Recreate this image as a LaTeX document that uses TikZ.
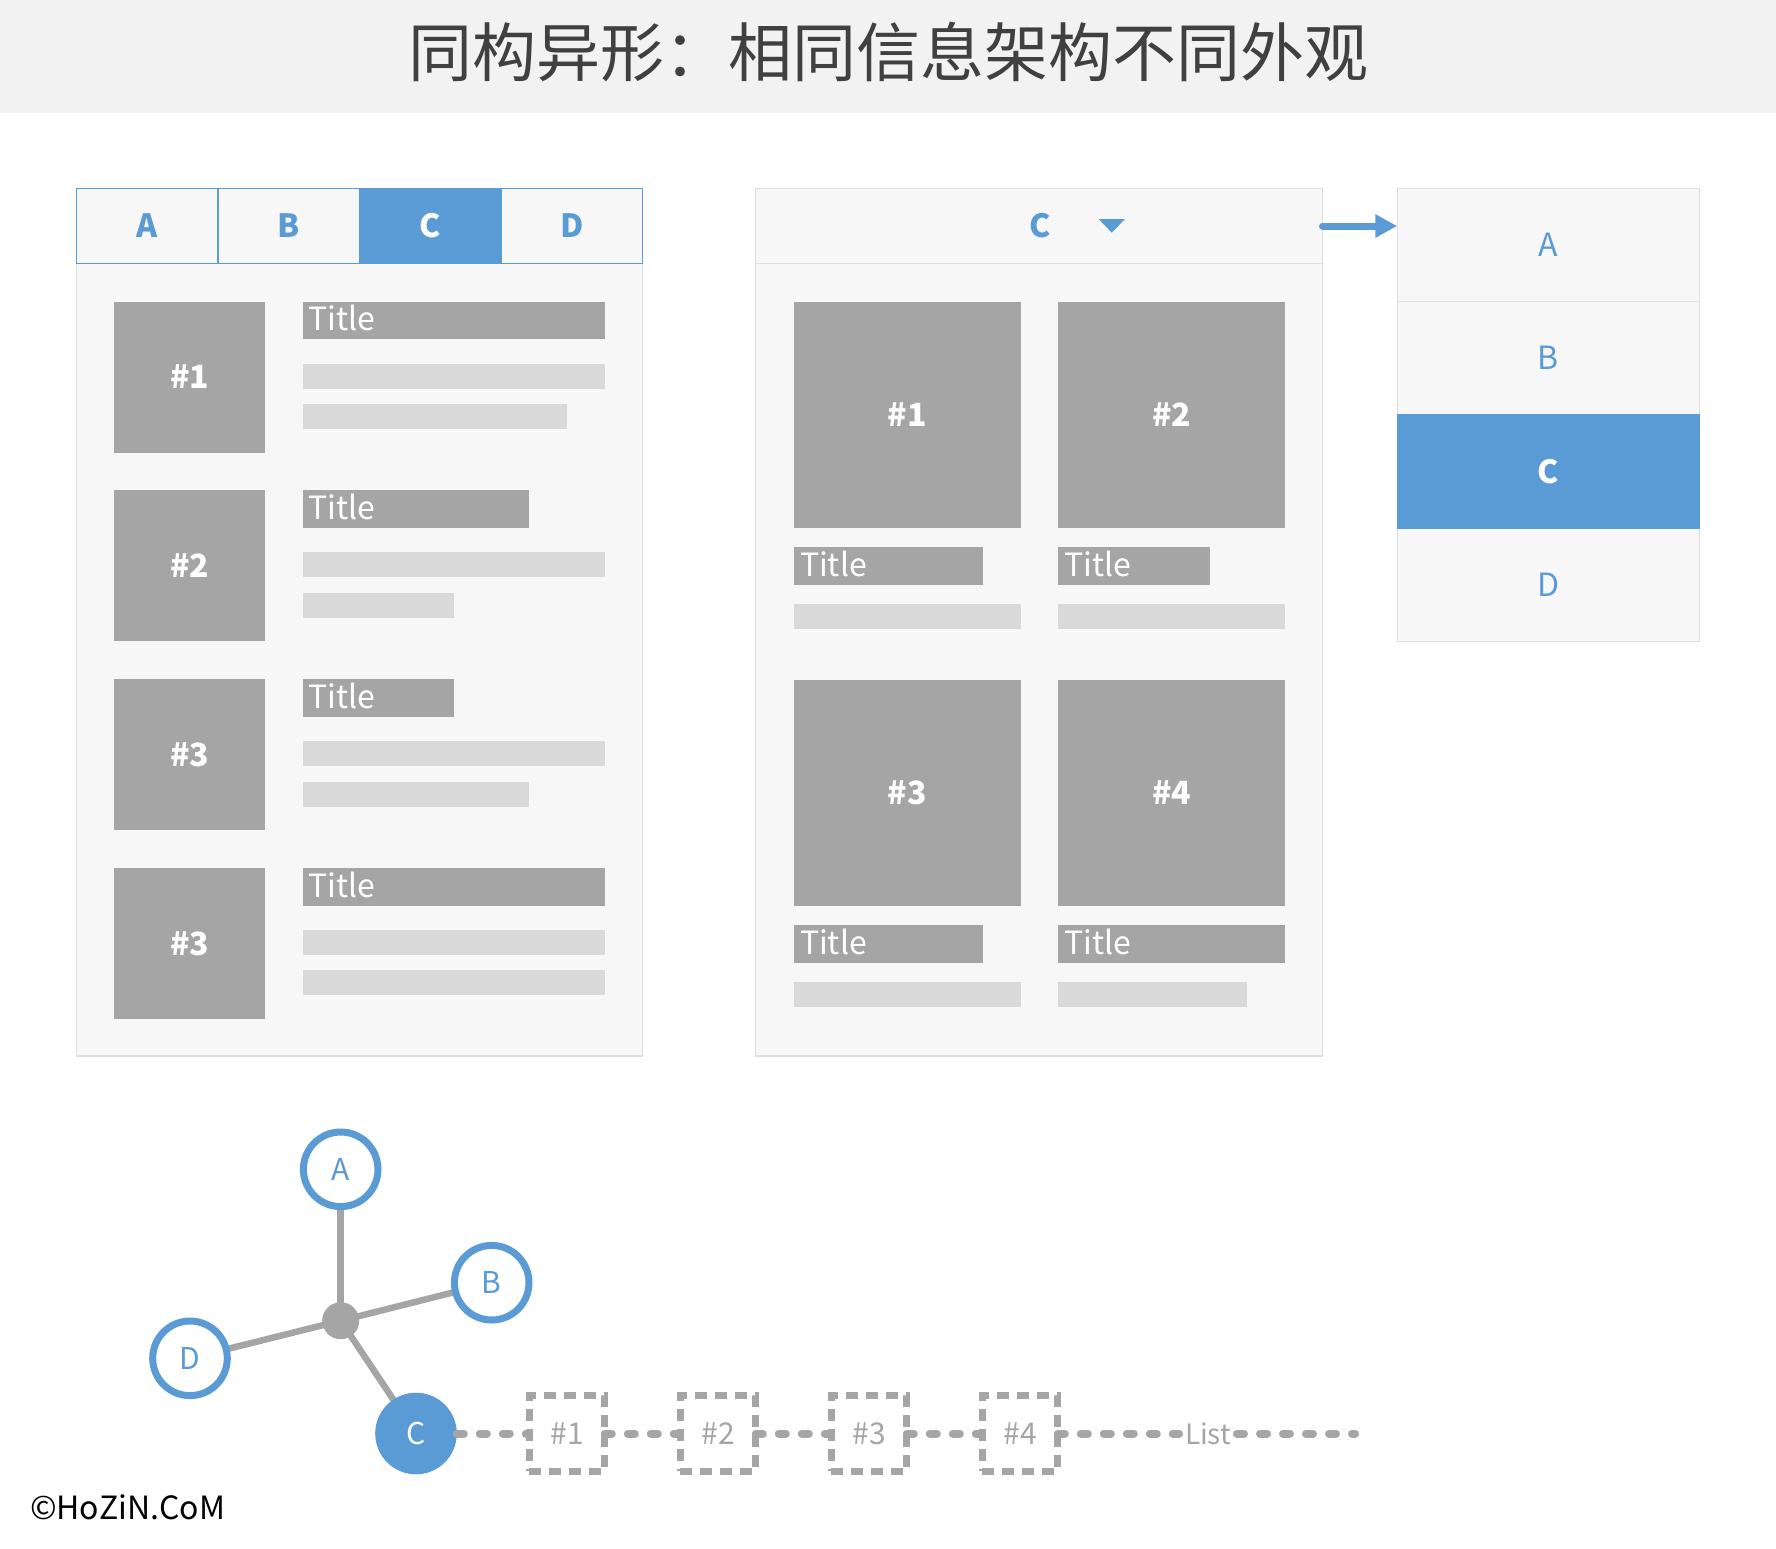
\documentclass[tikz,border=0pt]{standalone}
\usepackage{fontspec}
\setmainfont{Noto Sans CJK SC}
\usetikzlibrary{arrows.meta,backgrounds}
\definecolor{blu}{HTML}{5B9BD5}
\definecolor{imggray}{HTML}{A5A5A5}
\definecolor{lightline}{HTML}{D9D9D9}
\definecolor{panelbg}{HTML}{F7F7F7}
\definecolor{panelline}{HTML}{DEDEDE}
\definecolor{hdrbg}{HTML}{F2F2F2}
\definecolor{hdrtext}{HTML}{404040}
% box node from pixel corners: name, style, x1, y1, x2, y2, text
\newcommand\bx[7]{%
  \pgfmathsetmacro\bxw{((#5)-(#3))*0.5}%
  \pgfmathsetmacro\bxh{((#6)-(#4))*0.5}%
  \pgfmathsetmacro\bxcx{((#3)+(#5))/2}%
  \pgfmathsetmacro\bxcy{((#4)+(#6))/2}%
  \node[#2, minimum width=\bxw pt, minimum height=\bxh pt] (#1) at (\bxcx,\bxcy) {#7};}
\begin{document}
\begin{tikzpicture}[x=0.5pt,y=-0.5pt,
  every node/.style={inner sep=0pt, outer sep=0pt},
  fsz/.style={font=\fontsize{#1}{#1}\selectfont},
  bfsz/.style={font=\bfseries\fontsize{#1}{#1}\selectfont},
  panel/.style={fill=panelbg, draw=panelline, line width=0.75pt},
  tab/.style={fill=panelbg, draw=blu, line width=0.75pt, text=blu, bfsz=16pt},
  tabon/.style={fill=blu, draw=blu, line width=0.75pt, text=white, bfsz=16pt},
  img/.style={fill=imggray, text=white, bfsz=16pt},
  ttlbar/.style={fill=imggray},
  ttltxt/.style={text=white, fsz=16pt, anchor=west},
  txtline/.style={fill=lightline},
  item/.style={panel, text=blu, fsz=16pt},
  itemon/.style={fill=blu, draw=blu, line width=0.75pt, text=white, bfsz=16pt},
  ring/.style={circle, draw=blu, line width=3.5pt, fill=white, minimum size=37.3pt, text=blu, fsz=15pt},
  ringon/.style={circle, fill=blu, minimum size=40.8pt, text=white, fsz=15pt},
  hubdot/.style={circle, fill=imggray, minimum size=18.5pt},
  spoke/.style={draw=imggray, line width=3.25pt, line cap=round},
  dots/.style={draw=imggray, line width=4pt, line cap=round, dash pattern=on 3.5pt off 8pt},
  dbox/.style={draw=imggray, line width=3.5pt, dash pattern=on 6pt off 4pt, fill=white, minimum size=37.8pt, text=imggray, fsz=15pt},
  arr/.style={draw=blu, line width=3.5pt, line cap=round, -{Triangle[length=11pt,width=11pt]}}
]
\useasboundingbox (0,0) rectangle (1776,1548);
\begin{scope}[on background layer]
  \fill[white] (0,0) rectangle (1776,1548);
\end{scope}
% header
\fill[hdrbg] (0,0) rectangle (1776,112.7);
\node[text=hdrtext, fsz=32pt] (title) at (888,52) {同构异形：相同信息架构不同外观};

% ---------- left panel: tabs ----------
\bx{lbody}{panel}{76.5}{263.7}{642.5}{1056}{}
\bx{tA}{tab}{76.5}{188.3}{218}{263.7}{A}
\bx{tB}{tab}{218}{188.3}{359.5}{263.7}{B}
\bx{tD}{tab}{501}{188.3}{642.5}{263.7}{D}
\bx{tC}{tabon}{359.5}{188.3}{501}{263.7}{C}
\foreach \i/\n/\tw/\lw in {0/1/302.5/264.7,1/2/226.9/151.2,2/3/151.2/226.9,3/3/302.5/302.5}{
  \pgfmathsetmacro\T{301.5+188.8*\i}
  \bx{limg\i}{img}{114.3}{\T}{265.4}{\T+151}{\#\n}
  \bx{lttl\i}{ttlbar}{302.5}{\T}{302.5+\tw}{\T+37.8}{}
  \node[ttltxt] (lttltxt\i) at ([xshift=3pt,yshift=1pt]lttl\i.west) {Title};
  \bx{lla\i}{txtline}{302.5}{\T+62}{605}{\T+87}{}
  \bx{llb\i}{txtline}{302.5}{\T+102.5}{302.5+\lw}{\T+127.5}{}
}

% ---------- middle panel: dropdown + grid ----------
\bx{mbody}{panel}{755.3}{263.7}{1322.5}{1056}{}
\bx{mhead}{panel}{755.3}{188.3}{1322.5}{263.7}{}
\node[text=blu, bfsz=16pt] (mC) at (1039.7,226) {C};
\fill[blu] (1098.6,219) -- (1125,219) -- (1111.8,232.7) -- cycle;
\foreach \r/\c/\n/\tw/\lw in {0/0/1/188.9/226.8,0/1/2/151.2/226.8,1/0/3/188.9/226.8,1/1/4/226.8/188.9}{
  \pgfmathsetmacro\T{301.5+378.1*\r}
  \pgfmathsetmacro\L{794+264.3*\c}
  \bx{mimg\n}{img}{\L}{\T}{\L+226.8}{\T+226.8}{\#\n}
  \bx{mttl\n}{ttlbar}{\L}{\T+245.7}{\L+\tw}{\T+283.5}{}
  \node[ttltxt] (mttltxt\n) at ([xshift=3pt,yshift=1pt]mttl\n.west) {Title};
  \bx{mline\n}{txtline}{\L}{\T+302.4}{\L+\lw}{\T+327.6}{}
}

% ---------- right: dropdown list ----------
\bx{lA}{item}{1397.3}{188.3}{1699.3}{301.6}{A}
\bx{lB}{item}{1397.3}{301.6}{1699.3}{414.9}{B}
\bx{lD}{item}{1397.3}{528.2}{1699.3}{641.5}{D}
\bx{lC}{itemon}{1397.3}{414.9}{1699.3}{528.2}{C}
\draw[arr] (mhead.east) -- (mhead.east -| lA.west);

% ---------- graph ----------
\node[ring] (gA) at (340.7,1169.3) {A};
\node[ring] (gB) at (491.7,1282.7) {B};
\node[ring] (gD) at (190,1358.3) {D};
\node[ringon] (gC) at (416,1433.5) {C};
\node[hubdot] (hub) at (340.7,1320.7) {};
\begin{scope}[on background layer]
  \draw[spoke] (hub.center) -- (gA.center);
  \draw[spoke] (hub.center) -- (gB.center);
  \draw[spoke] (hub.center) -- (gD.center);
  \draw[spoke] (hub.center) -- (gC.center);
\end{scope}

% ---------- list chain ----------
\node[dbox] (c1) at (567,1433.5) {\#1};
\node[dbox] (c2) at (718,1433.5) {\#2};
\node[dbox] (c3) at (869,1433.5) {\#3};
\node[dbox] (c4) at (1020,1433.5) {\#4};
\node[text=imggray, fsz=14pt, inner sep=3pt] (lst) at (1208,1433.5) {List};
\coordinate (lend) at (1355,1433.5);
\draw[dots] (gC) -- (c1);
\draw[dots] (c1) -- (c2);
\draw[dots] (c2) -- (c3);
\draw[dots] (c3) -- (c4);
\draw[dots] (c4) -- (lst);
\draw[dots] (lst) -- (lend);

% copyright
\node[anchor=west, text=black, fsz=16pt] (copy) at (30,1507.5) {©HoZiN.CoM};
\end{tikzpicture}
\end{document}
